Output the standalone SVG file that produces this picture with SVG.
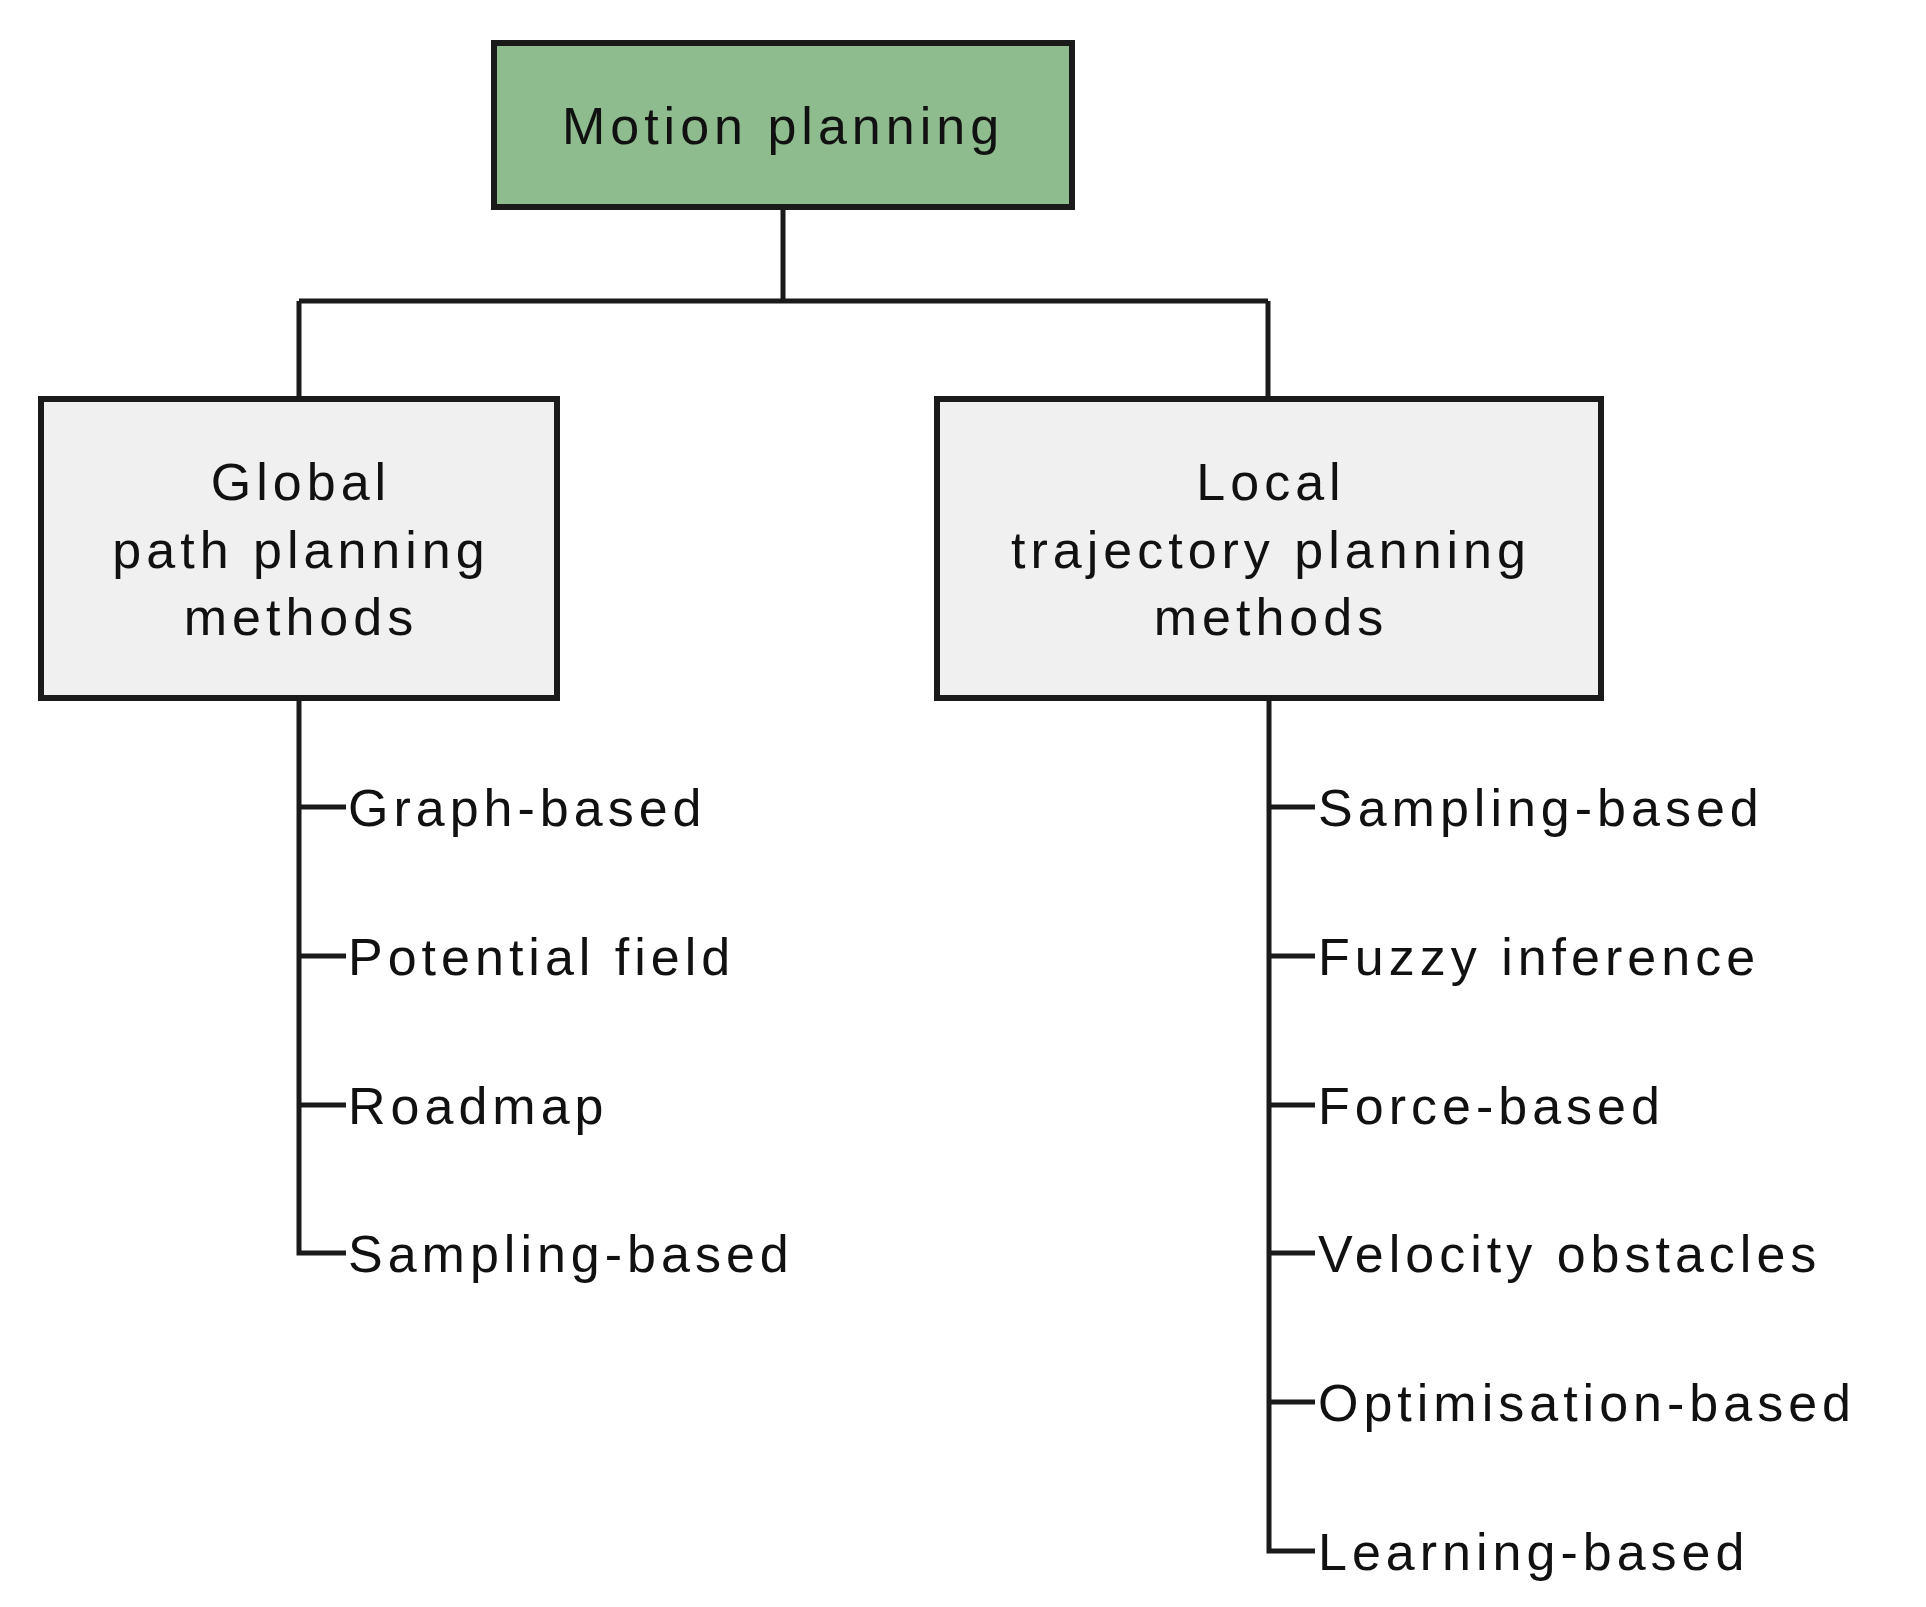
<svg xmlns="http://www.w3.org/2000/svg" width="1926" height="1607" viewBox="0 0 1926 1607">
<style>
.box{stroke:#1a1a1a;stroke-width:6}
.t{font-family:"Liberation Sans",Arial,sans-serif;font-size:52px;letter-spacing:5px;fill:#111}
.c{stroke:#1a1a1a;stroke-width:5;fill:none}
</style>
<rect width="1926" height="1607" fill="#fff"/>
<g id="connectors">
<path class="c" d="M783 207V301M299 301H1268M299 301V399M1268 301V399"/>
<path class="c" d="M299 698V1253H346M299 807H346M299 956H346M299 1105H346"/>
<path class="c" d="M1269 698V1551H1315M1269 807H1315M1269 956H1315M1269 1105H1315M1269 1253H1315M1269 1402H1315"/>
</g>
<g id="motion"><rect class="box" x="494" y="43" width="578" height="164" fill="#8fbc8f"/><text class="t" x="783" y="144" text-anchor="middle">Motion planning</text></g>
<g id="global"><rect class="box" x="41" y="399" width="516" height="299" fill="#f0f0f0"/>
<text class="t" text-anchor="middle"><tspan x="301" y="500">Global</tspan><tspan x="301" y="568">path planning</tspan><tspan x="301" y="635">methods</tspan></text></g>
<g id="local"><rect class="box" x="937" y="399" width="664" height="299" fill="#f0f0f0"/>
<text class="t" text-anchor="middle"><tspan x="1271" y="500">Local</tspan><tspan x="1271" y="568">trajectory planning</tspan><tspan x="1271" y="635">methods</tspan></text></g>
<g id="g1"><text class="t" x="348" y="826">Graph-based</text></g>
<g id="g2"><text class="t" x="348" y="975">Potential field</text></g>
<g id="g3"><text class="t" x="348" y="1124">Roadmap</text></g>
<g id="g4"><text class="t" x="348" y="1272">Sampling-based</text></g>
<g id="l1"><text class="t" x="1318" y="826">Sampling-based</text></g>
<g id="l2"><text class="t" x="1318" y="975">Fuzzy inference</text></g>
<g id="l3"><text class="t" x="1318" y="1124">Force-based</text></g>
<g id="l4"><text class="t" x="1318" y="1272">Velocity obstacles</text></g>
<g id="l5"><text class="t" x="1318" y="1421">Optimisation-based</text></g>
<g id="l6"><text class="t" x="1318" y="1570">Learning-based</text></g>
</svg>
